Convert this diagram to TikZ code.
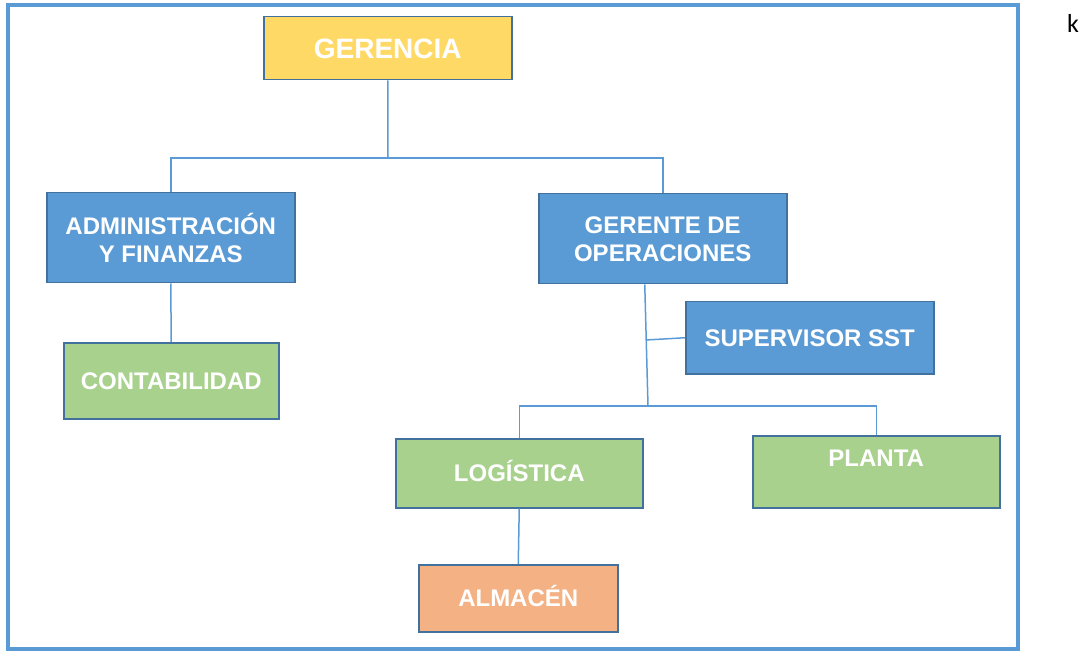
\documentclass[tikz,border=0pt]{standalone}
\usepackage{fontspec}
\setmainfont{Liberation Sans}
\newfontfamily\kfont{Carlito}
\definecolor{frameblue}{HTML}{5B9BD5}
\definecolor{boxborder}{HTML}{41719C}
\definecolor{bluef}{HTML}{5B9BD5}
\definecolor{greenf}{HTML}{A9D18E}
\definecolor{orangef}{HTML}{F4B183}
\definecolor{yellowf}{HTML}{FFD966}
\begin{document}
\begin{tikzpicture}[x=1pt,y=-1pt,
  box/.style={draw=boxborder, line width=1.5pt, anchor=north west, inner sep=0pt,
    text=white, font=\bfseries\fontsize{24}{28}\selectfont, align=center},
  oneline/.style={text height=17.2pt, text depth=0pt},
  conn/.style={draw=frameblue, line width=1.5pt}]
\useasboundingbox (0,0) rectangle (1087,652);
\draw[frameblue, line width=4pt] (8,5) rectangle (1018,649);

\node[box, fill=yellowf, minimum width=248pt, minimum height=63pt,
  font=\bfseries\fontsize{28}{32}\selectfont, text height=20pt, text depth=0pt] (ger) at (263,16) {GERENCIA};
\node[box, fill=bluef, minimum width=248pt, minimum height=90pt] (adm) at (46,192) {ADMINISTRACIÓN\\Y FINANZAS};
\node[box, fill=bluef, minimum width=248pt, minimum height=90pt] (gop) at (538,193) {GERENTE DE\\OPERACIONES};
\node[box, oneline, fill=greenf, minimum width=215pt, minimum height=76pt] (cont) at (63,342) {CONTABILIDAD};
\node[box, oneline, fill=bluef, minimum width=248pt, minimum height=72pt] (sst) at (685,301) {SUPERVISOR SST};
\node[box, oneline, fill=greenf, minimum width=247pt, minimum height=69pt] (log) at (395,438) {LOGÍSTICA};
\node[box, fill=greenf, minimum width=247pt, minimum height=72pt, text height=17.2pt, text depth=27pt] (pla) at (752,435) {PLANTA};
\node[box, oneline, fill=orangef, minimum width=199pt, minimum height=67pt] (alm) at (418,564) {ALMACÉN};

\node[font=\kfont\fontsize{26}{30}\selectfont, anchor=base west, inner sep=0pt] (k) at (1067,33) {k};

\coordinate (j1) at (388,158);
\coordinate (j2) at (648,406);
\coordinate (j3) at (646,340);
\draw[conn] (ger.south) -- (j1);
\draw[conn] (adm.north) |- (j1) -| (gop.north);
\draw[conn] (adm.south) -- (cont.north);
\draw[conn] ([xshift=-18pt]gop.south) -- (j2);
\draw[conn] (j3) -- (sst.west);
\draw[conn] (log.north) |- (j2) -| (pla.north);
\draw[conn] (log.south) -- (alm.north);
\end{tikzpicture}
\end{document}
